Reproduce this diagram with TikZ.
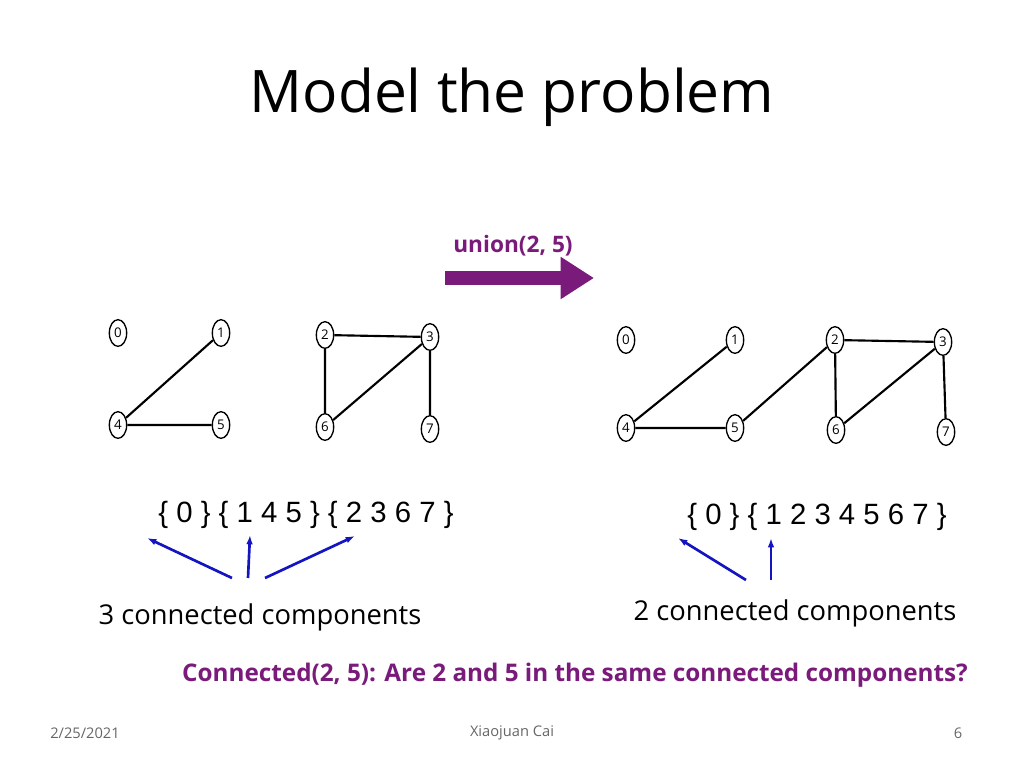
\documentclass[tikz,border=0pt]{standalone}
\usepackage{fontspec}
\setmainfont{Open Sans}
\newfontfamily\arialf{Liberation Sans}
\usetikzlibrary{shapes.geometric,arrows.meta}
\definecolor{purp}{HTML}{7A1A7A}
\definecolor{blu}{HTML}{1414C0}
\begin{document}
\begin{tikzpicture}[x=0.75pt,y=-0.75pt,
  vtx/.style={ellipse,draw,line width=1pt,minimum width=13pt,minimum height=20pt,inner sep=0pt,font=\fontsize{10}{10}\selectfont},
  edge/.style={line width=1.6pt},
  pointer/.style={draw=blu,line width=2pt,-{Latex[length=7pt,width=5pt]}},
  settext/.style={font=\arialf\fontsize{22}{22}\selectfont},
  cc/.style={font=\fontsize{20.5}{20.5}\selectfont}]
\useasboundingbox (0,0) rectangle (1024,768);
\node (title) at (512,97) {\fontsize{44}{44}\selectfont Model the problem};
\node[text=purp,font=\bfseries\fontsize{17}{17}\selectfont] (ulab) at (513,246) {union(2, 5)};
\coordinate (as) at (445,278); \coordinate (ae) at (594,278);
\draw[purp,line width=10pt,-{Triangle[length=25pt,width=30pt]}] (as) -- (ae);
% left graph
\node[vtx] (a0) at (118,333) {0};
\node[vtx] (a1) at (221,333) {1};
\node[vtx] (a2) at (325,335) {2};
\node[vtx] (a3) at (430,337) {3};
\node[vtx] (a4) at (118,425) {4};
\node[vtx] (a5) at (221,425) {5};
\node[vtx] (a6) at (325,427) {6};
\node[vtx] (a7) at (430,429) {7};
\draw[edge] (a1)--(a4) (a4)--(a5) (a2)--(a3) (a2)--(a6) (a6)--(a3) (a3)--(a7);
% right graph
\node[vtx] (b0) at (626,340) {0};
\node[vtx] (b1) at (735,340) {1};
\node[vtx] (b2) at (835,340) {2};
\node[vtx] (b3) at (943,342) {3};
\node[vtx] (b4) at (626,428) {4};
\node[vtx] (b5) at (735,428) {5};
\node[vtx] (b6) at (836,430) {6};
\node[vtx] (b7) at (946,432) {7};
\draw[edge] (b1)--(b4) (b4)--(b5) (b5)--(b2) (b2)--(b3) (b2)--(b6) (b6)--(b3) (b3)--(b7);
% sets
\node[settext] (ls) at (306,515) {\{\;0\;\}\;\{\;1\;4\;5\;\}\;\{\;2\;3\;6\;7\;\}};
\node[settext] (rs) at (817,517) {\{\;0\;\}\;\{\;1\;2\;3\;4\;5\;6\;7\;\}};
\coordinate (l1s) at (232,578); \coordinate (l1e) at (147,538);
\coordinate (l2s) at (248,578); \coordinate (l2e) at (250,535);
\coordinate (l3s) at (265,578); \coordinate (l3e) at (355,536);
\coordinate (r1s) at (746,580); \coordinate (r1e) at (678,538);
\coordinate (r2s) at (771,580); \coordinate (r2e) at (771,538);
\draw[pointer] (l1s)--(l1e); \draw[pointer] (l2s)--(l2e); \draw[pointer] (l3s)--(l3e);
\draw[pointer] (r1s)--(r1e); \draw[pointer] (r2s)--(r2e);
\node[cc] (lcc) at (260,617) {3 connected components};
\node[cc] (rcc) at (795,613) {2 connected components};
\node[text=purp,font=\bfseries\fontsize{18.2}{18.2}\selectfont] (q) at (575,675) {Connected(2, 5): Are 2 and 5 in the same connected components?};
\node[text=black!60,font=\fontsize{11}{11}\selectfont] (date) at (85,733) {2/25/2021};
\node[text=black!60,font=\fontsize{11}{11}\selectfont] (auth) at (512,733) {Xiaojuan Cai};
\node[text=black!60,font=\fontsize{11}{11}\selectfont] (pg) at (958,733) {6};
\end{tikzpicture}
\end{document}
